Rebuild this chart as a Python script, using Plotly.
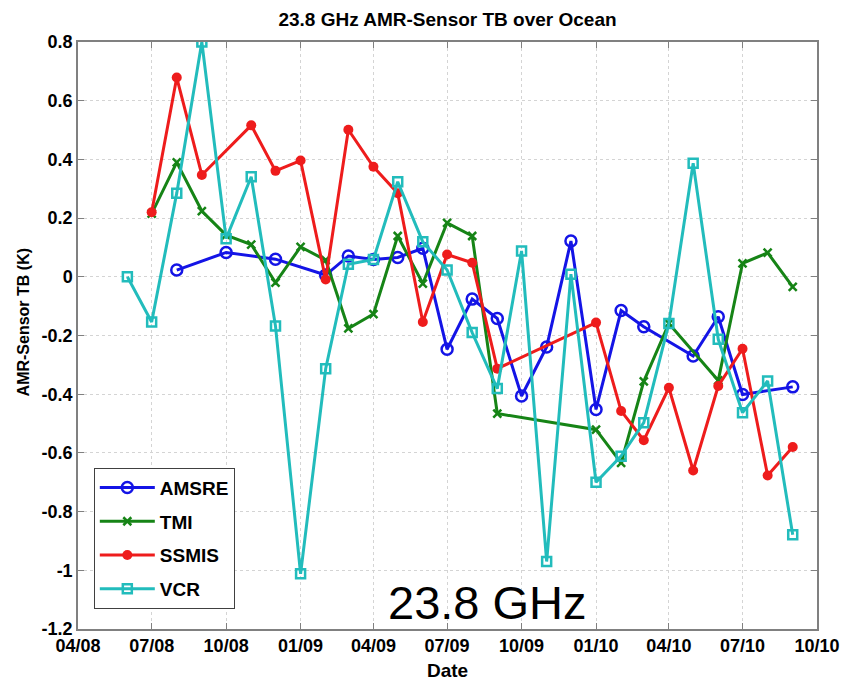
import plotly.graph_objects as go

# Monthly sample dates (first day of each month, Jun 2008 - Sep 2010)
months = [f"{y}-{m:02d}-01" for y, m in
          [(2008, m) for m in range(6, 13)] +
          [(2009, m) for m in range(1, 13)] +
          [(2010, m) for m in range(1, 10)]]

# AMR minus sensor brightness-temperature differences (K); None = no collocations
amsre = [None, None, 0.023, None, 0.083, None, 0.060, None, 0.006, 0.071,
         0.059, 0.066, 0.097, -0.247, -0.076, -0.142, -0.406, -0.239, 0.122, -0.452,
         -0.115, -0.170, None, -0.270, -0.136, -0.401, None, -0.375]
tmi = [None, 0.215, 0.390, 0.224, 0.142, 0.110, -0.020, 0.102, 0.057, -0.176,
       -0.127, 0.139, -0.023, 0.184, 0.139, -0.466, None, None, None, -0.521,
       -0.634, -0.356, -0.159, None, -0.353, 0.046, 0.082, -0.034]
ssmis = [None, 0.220, 0.679, 0.347, None, 0.516, 0.361, 0.396, -0.009, 0.501,
         0.375, 0.285, -0.154, 0.076, 0.048, -0.313, None, None, None, -0.156,
         -0.457, -0.557, -0.378, -0.660, -0.372, -0.245, -0.677, -0.580]
vcr = [0.0, -0.154, 0.285, 0.80, 0.130, 0.341, -0.168, -1.012, -0.313, 0.043,
       0.059, 0.324, 0.119, 0.023, -0.19, -0.381, 0.088, -0.970, 0.009, -0.70,
       -0.611, -0.497, -0.159, 0.387, -0.213, -0.463, -0.355, -0.879]

x_tick_dates = ["2008-04-01", "2008-07-01", "2008-10-01", "2009-01-01", "2009-04-01",
                "2009-07-01", "2009-10-01", "2010-01-01", "2010-04-01", "2010-07-01",
                "2010-10-01"]
x_tick_labels = ["04/08", "07/08", "10/08", "01/09", "04/09", "07/09", "10/09",
                 "01/10", "04/10", "07/10", "10/10"]
y_tick_vals = [0.8, 0.6, 0.4, 0.2, 0, -0.2, -0.4, -0.6, -0.8, -1.0, -1.2]
y_tick_labels = ["0.8", "0.6", "0.4", "0.2", "0", "-0.2", "-0.4", "-0.6", "-0.8", "-1", "-1.2"]

series = [
    ("AMSRE", amsre, "#1414e6", dict(symbol="circle-open", size=11, line=dict(width=2.5))),
    ("TMI", tmi, "#168416", dict(symbol="x-thin-open", size=8, line=dict(width=2.5))),
    ("SSMIS", ssmis, "#ee1c1c", dict(symbol="circle", size=10)),
    ("VCR", vcr, "#22bcbc", dict(symbol="square-open", size=9, line=dict(width=2.5))),
]

fig = go.Figure()
for name, vals, color, mk in series:
    mk = dict(mk, color=color)
    if "line" in mk:
        mk["line"] = dict(mk["line"], color=color)
    fig.add_trace(go.Scatter(
        x=months, y=vals, name=name, mode="lines+markers",
        connectgaps=True, line=dict(color=color, width=3), marker=mk,
        legendgroup=name,
    ))

axis_common = dict(
    showline=True, linecolor="#808080", linewidth=1.5, mirror="ticks",
    ticks="inside", ticklen=6, tickcolor="#808080", tickwidth=1.2,
    showgrid=True, gridcolor="#d4d4d4", griddash="dot", gridwidth=1,
    zeroline=False,
    tickfont=dict(family="Liberation Sans, Arial", size=18, color="black", weight="bold"),
)

fig.update_layout(
    width=852, height=683,
    margin=dict(l=78, r=28, t=42, b=54),
    paper_bgcolor="white", plot_bgcolor="white",
    font=dict(family="Liberation Sans, Arial", color="black"),
    title=dict(text="<b>23.8 GHz AMR-Sensor TB over Ocean</b>",
               x=0.5, xref="paper", y=1 - 19 / 683, yref="container",
               xanchor="center", yanchor="middle",
               font=dict(size=19, color="black")),
    xaxis=dict(axis_common, type="date", range=["2008-04-01", "2010-10-01"],
               tickvals=x_tick_dates, ticktext=x_tick_labels),
    yaxis=dict(axis_common, range=[-1.2, 0.8],
               tickvals=y_tick_vals, ticktext=y_tick_labels),
    legend=dict(x=0.0214, y=0.2748, xanchor="left", yanchor="top",
                bgcolor="white", bordercolor="#404040", borderwidth=1,
                font=dict(size=19, color="black", weight="bold"),
                tracegroupgap=6, itemwidth=55),
    showlegend=True,
    annotations=[
        dict(text="<b>AMR-Sensor TB (K)</b>", textangle=-90,
             x=-0.0741, y=0.5227, xref="paper", yref="paper",
             xanchor="center", yanchor="middle", showarrow=False,
             font=dict(size=16, color="black")),
        dict(text="<b>Date</b>", x=0.5, y=-0.0715, xref="paper", yref="paper",
             xanchor="center", yanchor="middle", showarrow=False, borderpad=0,
             font=dict(size=19, color="black")),
        dict(text="23.8 GHz", x=0.5536, y=0.0448, xref="paper", yref="paper",
             xanchor="center", yanchor="middle", showarrow=False,
             font=dict(size=47, color="black", family="Liberation Sans, Arial")),
    ],
)

fig.write_html("out.html")
